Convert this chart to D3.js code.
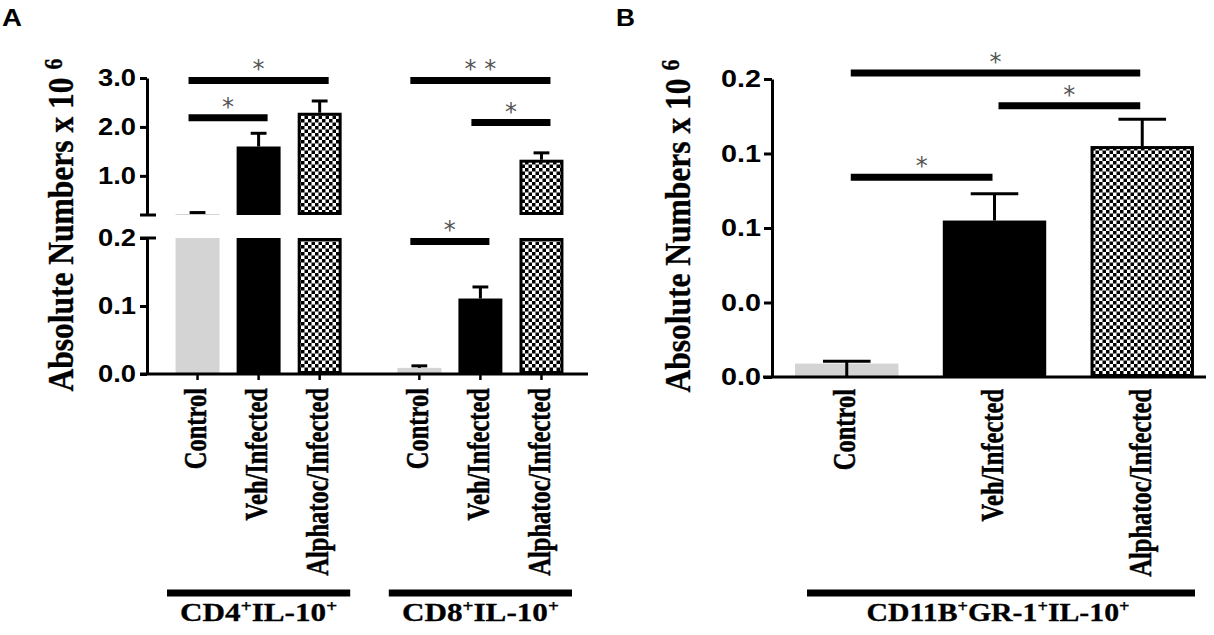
<!DOCTYPE html>
<html lang="en">
<head>
<meta charset="utf-8">
<title>IL-10 producing cells</title>
<script src="https://d3js.org/d3.v7.min.js"></script>
<style>
  body { margin: 0; background: #fff; }
</style>
</head>
<body>
<div id="chart"></div>
<script>
// ---- data (absolute numbers x 10^6) ----
const categories = ["Control", "Veh/Infected", "Alphatoc/Infected"];
const groupsA = ["CD4", "CD8"];

const cd4Mean = [0.22, 1.60, 2.29];
const cd4Sem  = [0.03, 0.27, 0.24];
const cd8Mean = [0.009, 0.111, 1.33];
const cd8Sem  = [0.003, 0.017, 0.14];

const cd11bMean = [0.009, 0.105, 0.155];
const cd11bSem  = [0.0015, 0.018, 0.018];

const lowTicksA  = [0, 0.1, 0.2];
const highTicksA = [1, 2, 3];
const ticksB     = [0, 0.05, 0.10, 0.15, 0.20];
const tickLabelsB = ["0.0", "0.0", "0.1", "0.1", "0.2"];

// significance brackets: bar index from/to, height in data units
const sigCD4 = [{from: 0, to: 2, y: 2.95, label: "*"}, {from: 0, to: 1, y: 2.19, label: "*"}];
const sigCD8 = [{from: 0, to: 2, y: 2.95, label: "* *"}, {from: 1, to: 2, y: 2.09, label: "*"},
                {from: 0, to: 1, y: 0.195, label: "*"}];
const sigB   = [{from: 0, to: 2, y: 0.204, label: "*"}, {from: 1, to: 2, y: 0.182, label: "*"},
                {from: 0, to: 1, y: 0.134, label: "*"}];

// group labels, odd parts are superscripts
const groupLabelsA = [["CD4", "+", "IL-10", "+"], ["CD8", "+", "IL-10", "+"]];
const groupLabelB  = ["CD11B", "+", "GR-1", "+", "IL-10", "+"];

const meansA = [cd4Mean, cd8Mean];
const semsA  = [cd4Sem, cd8Sem];
const sigA   = [sigCD4, sigCD8];

const fills = ["#d4d4d4", "#000", "url(#checks)"];
const serif = "'Liberation Serif', 'Times New Roman', serif";
const sans  = "'Liberation Sans', Arial, sans-serif";

const svg = d3.select("#chart").append("svg")
    .attr("width", 1214).attr("height", 635);

const pat = svg.append("defs").append("pattern")
    .attr("id", "checks").attr("patternUnits", "userSpaceOnUse")
    .attr("width", 7).attr("height", 7);
pat.append("rect").attr("width", 7).attr("height", 7).attr("fill", "#fff");
pat.append("rect").attr("width", 3.5).attr("height", 3.5).attr("fill", "#000");
pat.append("rect").attr("x", 3.5).attr("y", 3.5).attr("width", 3.5).attr("height", 3.5).attr("fill", "#000");

function styleYTicks(g, len) {
  g.selectAll("path, line").attr("stroke", "#000").attr("stroke-width", 3);
  g.selectAll("text")
    .attr("font-family", sans).attr("font-weight", "bold").attr("font-size", 24)
    .attr("fill", "#000").attr("x", -11)
    .attr("textLength", len).attr("lengthAdjust", "spacingAndGlyphs");
}

function styleXTicks(g, gap) {
  g.select(".domain").remove();
  g.selectAll("line").attr("stroke", "#000").attr("stroke-width", 2.5);
  g.selectAll("text")
    .attr("font-family", serif).attr("font-weight", "bold").attr("font-size", 24.5)
    .attr("fill", "#000").attr("stroke", "#000").attr("stroke-width", 0.4)
    .attr("transform", "scale(1.25,1) rotate(-90)")
    .attr("text-anchor", "end")
    .attr("x", -gap).attr("y", 0).attr("dy", "0.28em");
}

function yTitle(cx, cy) {
  const t = svg.append("text")
    .attr("transform", `translate(${cx},${cy}) scale(1.15,1) rotate(-90)`)
    .attr("text-anchor", "middle")
    .attr("font-family", serif).attr("font-weight", "bold").attr("font-size", 31.5)
    .attr("stroke", "#000").attr("stroke-width", 0.3);
  t.append("tspan").text("Absolute Numbers x 10");
  t.append("tspan").attr("dx", 8).attr("font-size", 22).attr("baseline-shift", "9").text("6");
}

function groupLabel(parts, cx, y, len) {
  const t = svg.append("text")
    .attr("x", cx).attr("y", y).attr("text-anchor", "middle")
    .attr("font-family", serif).attr("font-weight", "bold").attr("font-size", 26)
    .attr("stroke", "#000").attr("stroke-width", 0.3)
    .attr("textLength", len).attr("lengthAdjust", "spacingAndGlyphs");
  parts.forEach((p, i) => {
    const s = t.append("tspan").text(p);
    if (i % 2) s.attr("font-size", 16).attr("baseline-shift", "9");
  });
}

function drawBar(g, x, w, yTop, yBot, fill) {
  const boxed = fill.startsWith("url");
  const inset = boxed ? 1.5 : 0;
  g.append("rect")
    .attr("x", x + inset).attr("y", yTop + inset)
    .attr("width", w - 2 * inset).attr("height", Math.max(0, yBot - yTop - 2 * inset))
    .attr("fill", fill)
    .attr("stroke", boxed ? "#000" : "none").attr("stroke-width", boxed ? 3 : 0);
}

function drawErr(g, cx, y0, y1, capW) {
  g.append("line").attr("x1", cx).attr("x2", cx).attr("y1", y0).attr("y2", y1)
    .attr("stroke", "#000").attr("stroke-width", 3);
  g.append("line").attr("x1", cx - capW / 2).attr("x2", cx + capW / 2).attr("y1", y1).attr("y2", y1)
    .attr("stroke", "#000").attr("stroke-width", 3);
}

function drawSig(g, x1, x2, y, label) {
  g.append("line").attr("x1", x1).attr("x2", x2).attr("y1", y).attr("y2", y)
    .attr("stroke", "#000").attr("stroke-width", 7);
  g.append("text").attr("x", (x1 + x2) / 2).attr("y", y - 3)
    .attr("text-anchor", "middle").attr("font-family", "'DejaVu Sans', sans-serif")
    .attr("font-size", 24).attr("fill", "#555").text(label);
}

// ================= Panel A =================
const axAx = 147;
const yLow  = d3.scaleLinear().domain([0, 0.2]).range([374, 238]);
const yHigh = d3.scaleLinear().domain([0.2, 3.0]).range([215, 78]);
const yA = v => v <= 0.2 ? yLow(v) : yHigh(v);
const xGroup = d3.scaleBand().domain(groupsA).range([167, 572]).paddingInner(0.174);
const xCat = d3.scaleBand().domain(categories).range([0, xGroup.bandwidth()])
    .paddingInner(0.28).paddingOuter(0.14);

const gA = svg.append("g");
groupsA.forEach((grp, gi) => {
  categories.forEach((cat, ci) => {
    const m = meansA[gi][ci], e = semsA[gi][ci];
    const x = xGroup(grp) + xCat(cat), w = xCat.bandwidth(), cx = x + w / 2;
    drawBar(gA, x, w, yLow(Math.min(m, 0.2)), yLow(0), fills[ci]);
    if (m > 0.2) drawBar(gA, x, w, yHigh(m), yHigh(0.2), fills[ci]);
    drawErr(gA, cx, yA(m), yA(m + e), w * 0.36);
  });
  sigA[gi].forEach(s => {
    const c = i => xGroup(grp) + xCat(categories[i]) + xCat.bandwidth() / 2;
    drawSig(gA, c(s.from) - 9, c(s.to) + 9, yA(s.y), s.label);
  });
});

svg.append("g").attr("transform", `translate(${axAx},0)`)
  .call(d3.axisLeft(yLow).tickValues(lowTicksA).tickFormat(d3.format(".1f")).tickSize(7).tickSizeOuter(0))
  .call(g => styleYTicks(g, 38));
svg.append("g").attr("transform", `translate(${axAx},0)`)
  .call(d3.axisLeft(yHigh).tickValues(highTicksA).tickFormat(d3.format(".1f")).tickSize(7).tickSizeOuter(0))
  .call(g => styleYTicks(g, 38));
// break caps
[yHigh(0.2), yLow(0.2)].forEach(y => {
  svg.append("line").attr("x1", axAx - 7).attr("x2", axAx + 9).attr("y1", y).attr("y2", y)
    .attr("stroke", "#000").attr("stroke-width", 3);
});

svg.append("line").attr("x1", 140).attr("x2", 588).attr("y1", yLow(0)).attr("y2", yLow(0))
  .attr("stroke", "#000").attr("stroke-width", 3);
groupsA.forEach((grp, gi) => {
  svg.append("g").attr("transform", `translate(${xGroup(grp)},${yLow(0)})`)
    .call(d3.axisBottom(xCat).tickSize(6).tickSizeOuter(0))
    .call(g => styleXTicks(g, 14));
  const x0 = xGroup(grp), x1 = x0 + xGroup.bandwidth();
  svg.append("line").attr("x1", x0).attr("x2", x1).attr("y1", 593).attr("y2", 593)
    .attr("stroke", "#000").attr("stroke-width", 7);
  groupLabel(groupLabelsA[gi], (x0 + x1) / 2, 621, 157);
});

yTitle(73, 225);
svg.append("text").attr("x", 2).attr("y", 26).attr("font-family", sans).attr("font-weight", "bold")
  .attr("font-size", 23).attr("textLength", 20).attr("lengthAdjust", "spacingAndGlyphs").text("A");

// ================= Panel B =================
const axBx = 772;
const yB = d3.scaleLinear().domain([0, 0.2]).range([377, 79]);
const xB = d3.scaleBand().domain(categories).range([772, 1217]).paddingInner(0.3).paddingOuter(0.156);

const gB = svg.append("g");
categories.forEach((cat, ci) => {
  const m = cd11bMean[ci], e = cd11bSem[ci];
  const x = xB(cat), w = xB.bandwidth(), cx = x + w / 2;
  drawBar(gB, x, w, yB(m), yB(0), fills[ci]);
  drawErr(gB, cx, ci === 0 ? yB(0) : yB(m), yB(m + e), w * 0.46);
});
sigB.forEach(s => {
  const c = i => xB(categories[i]) + xB.bandwidth() / 2;
  drawSig(gB, c(s.from) + 4, c(s.to) - 2, yB(s.y), s.label);
});

svg.append("g").attr("transform", `translate(${axBx},0)`)
  .call(d3.axisLeft(yB).tickValues(ticksB).tickFormat((d, i) => tickLabelsB[i]).tickSize(8).tickSizeOuter(0))
  .call(g => styleYTicks(g, 40));
svg.append("line").attr("x1", 763).attr("x2", 1206).attr("y1", yB(0)).attr("y2", yB(0))
  .attr("stroke", "#000").attr("stroke-width", 3);
svg.append("g").attr("transform", `translate(0,${yB(0)})`)
  .call(d3.axisBottom(xB).tickSize(0).tickSizeOuter(0))
  .call(g => styleXTicks(g, 12));

svg.append("line").attr("x1", 807).attr("x2", 1195).attr("y1", 593).attr("y2", 593)
  .attr("stroke", "#000").attr("stroke-width", 7);
groupLabel(groupLabelB, 998, 621, 263);

yTitle(690, 226);
svg.append("text").attr("x", 616).attr("y", 26).attr("font-family", sans).attr("font-weight", "bold")
  .attr("font-size", 23).attr("textLength", 19).attr("lengthAdjust", "spacingAndGlyphs").text("B");
</script>
</body>
</html>
